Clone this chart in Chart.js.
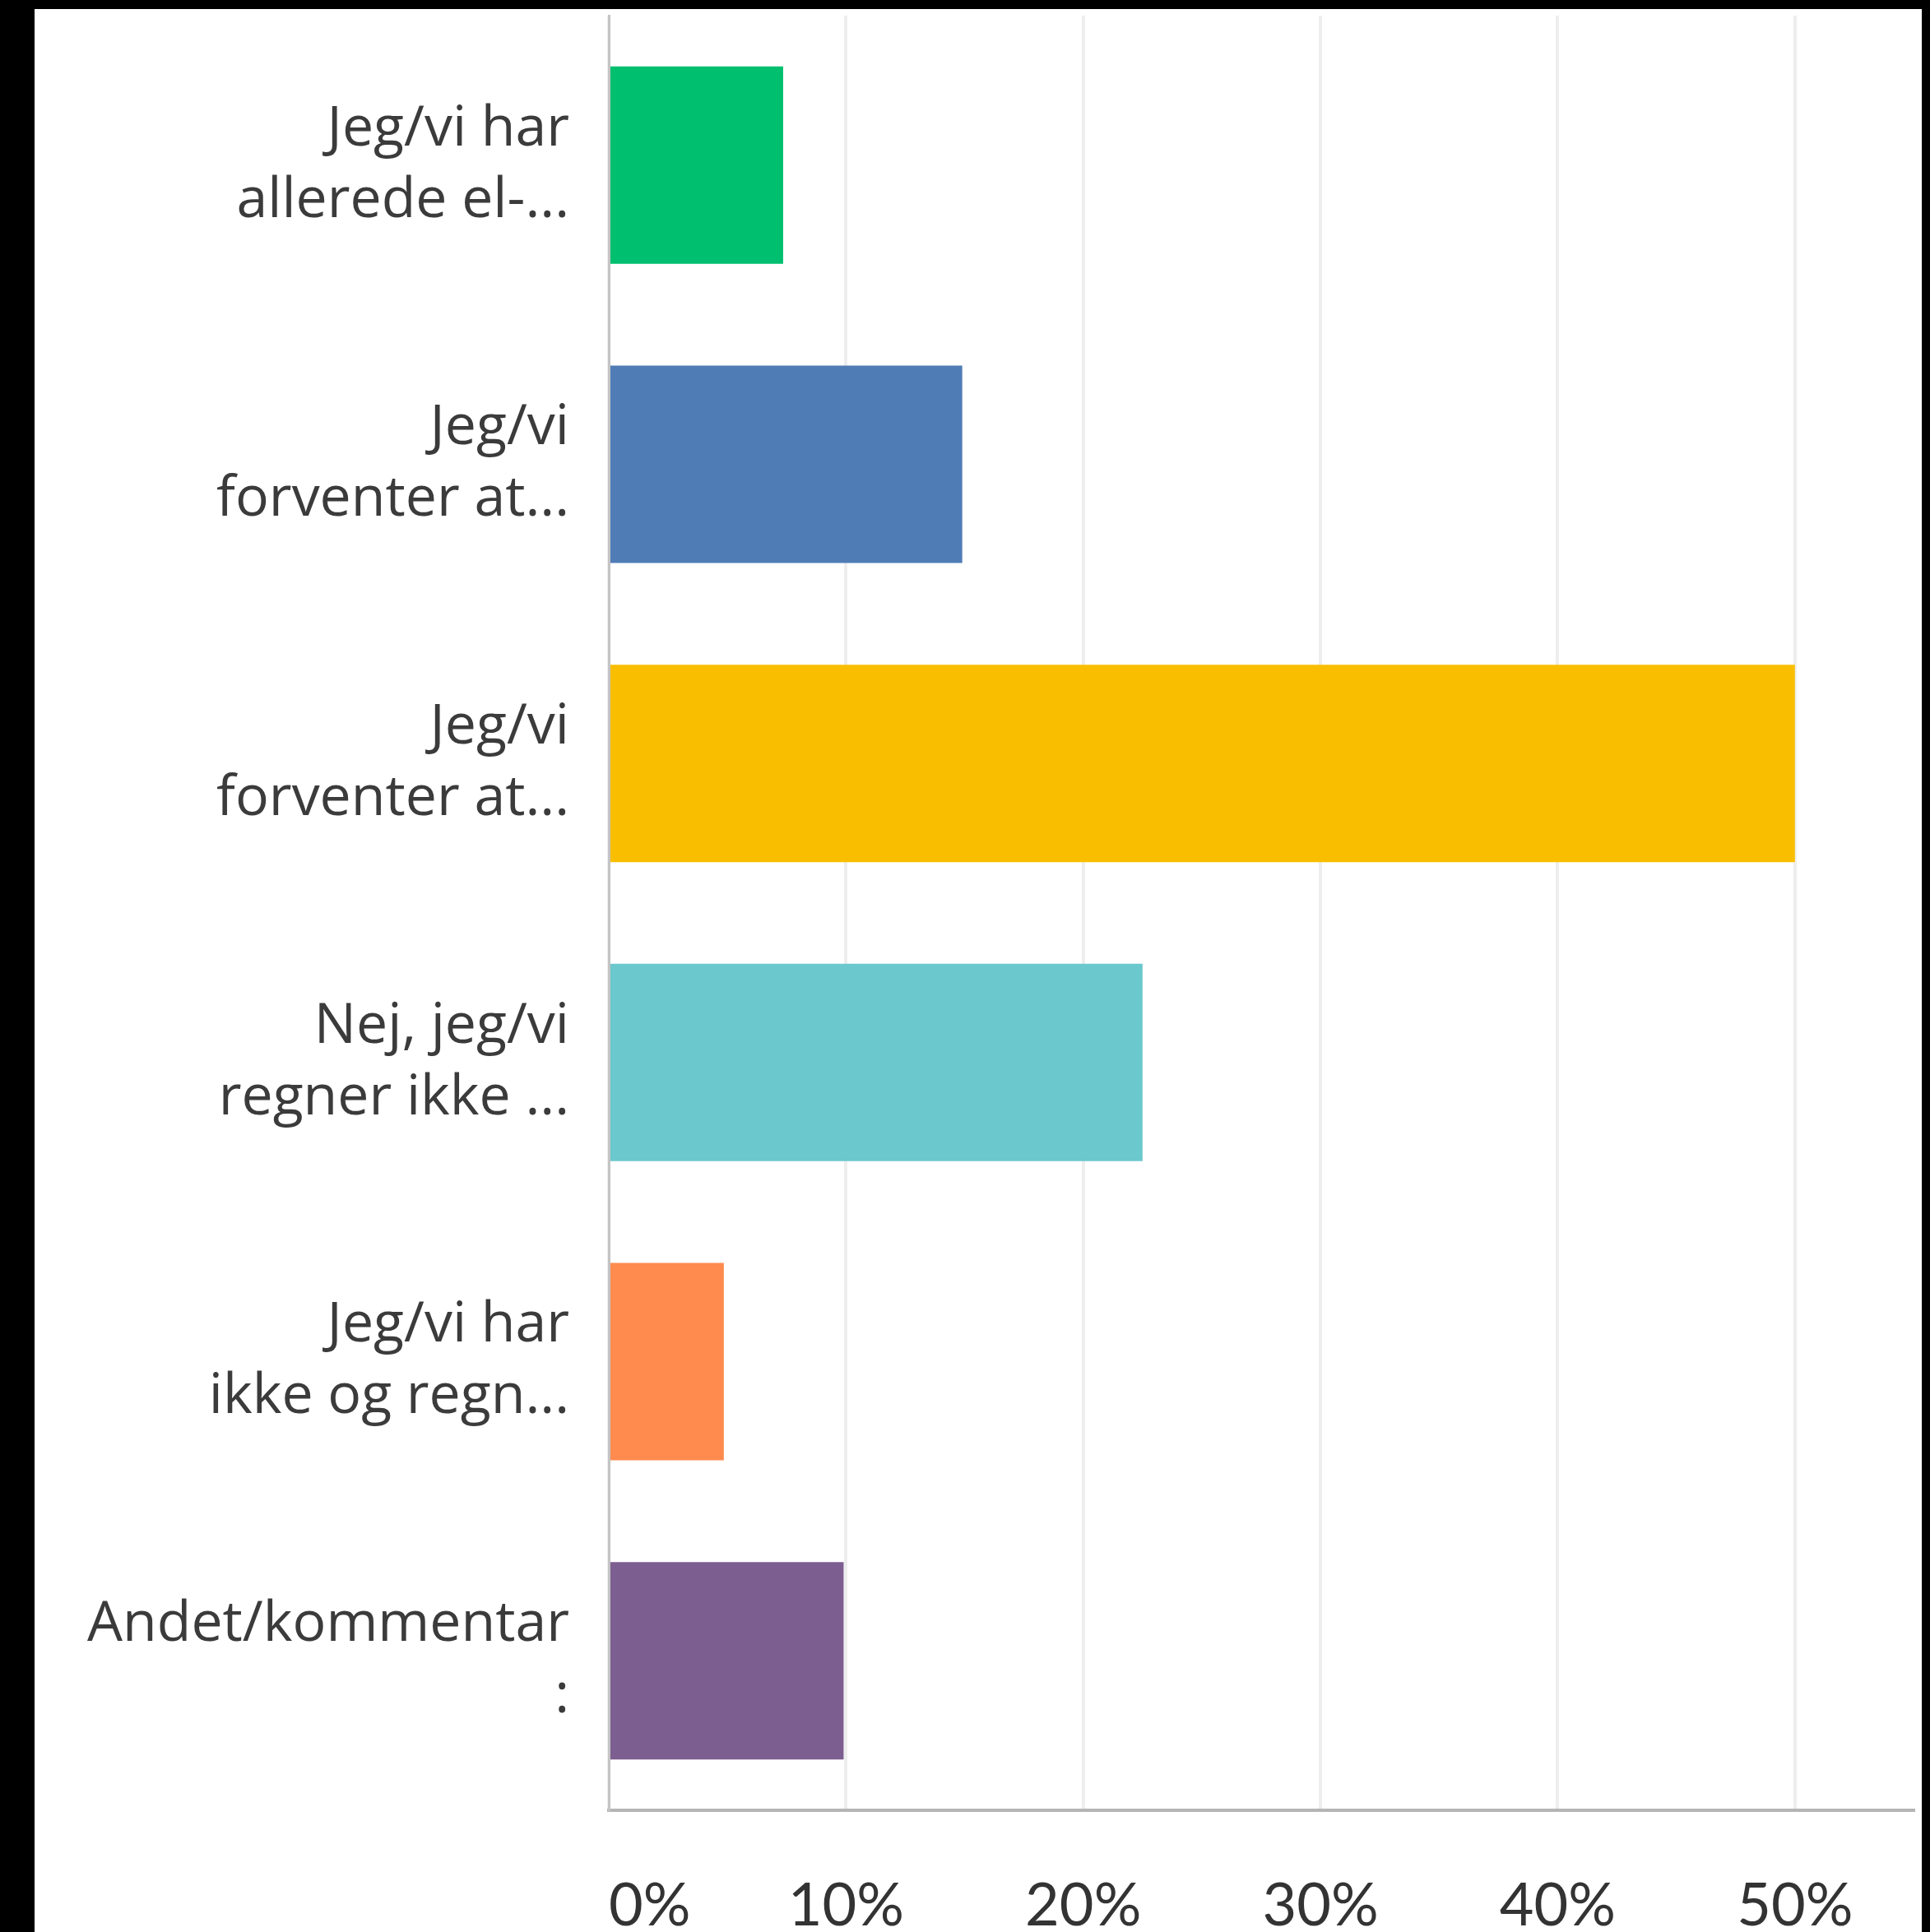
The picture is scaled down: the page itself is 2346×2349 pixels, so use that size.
<!DOCTYPE html>
<html>
<head>
<meta charset="utf-8">
<script src="https://cdn.jsdelivr.net/npm/chart.js@4"></script>
<style>
    html, body { margin: 0; padding: 0; background: #000; width: 2346px; height: 2349px; overflow: hidden; }
    #panel { position: absolute; left: 42px; top: 11px; width: 2294px; height: 2338px; background: #fff; }
</style>
</head>
<body>
<div id="panel"><canvas id="barChart"></canvas></div>
<script>
// Kategorier (afkortet som i originalen)
const categories = [
    ['Jeg/vi har', 'allerede el-...'],
    ['Jeg/vi', 'forventer at...'],
    ['Jeg/vi', 'forventer at...'],
    ['Nej, jeg/vi', 'regner ikke ...'],
    ['Jeg/vi har', 'ikke og regn...'],
    ['Andet/kommentar', ':']
];
// Svarprocenter
const percentages = [7.35, 14.9, 50, 22.5, 4.85, 9.9];
const barColors = ['#00bf6f', '#507cb6', '#f9be00', '#6bc8cd', '#ff8b4f', '#7d5e90'];
const tickValues = [0, 10, 20, 30, 40, 50];

const ctx = document.getElementById('barChart').getContext('2d');
new Chart(ctx, {
    type: 'bar',
    data: {
        labels: categories,
        datasets: [{
            data: percentages,
            backgroundColor: barColors,
            borderWidth: 0,
            categoryPercentage: 1,
            barPercentage: 0.66
        }]
    },
    options: {
        indexAxis: 'y',
        responsive: true,
        maintainAspectRatio: false,
        animation: false,
        layout: { padding: { top: 8, right: 10, left: 0, bottom: 0 } },
        plugins: {
            legend: { display: false },
            tooltip: { enabled: false }
        },
        scales: {
            x: {
                min: 0,
                max: 55,
                afterFit: (scale) => {
                    scale.height = 148;
                    scale.paddingLeft = 0;
                    scale.paddingRight = 0;
                },
                afterBuildTicks: (scale) => {
                    scale.ticks = tickValues.map(v => ({ value: v })).concat([{ value: 55 }]);
                },
                border: { color: '#b5b5b5', width: 4 },
                grid: {
                    drawTicks: false,
                    lineWidth: 4,
                    color: (c) => (c.tick && tickValues.includes(c.tick.value)) ? '#eeeeee' : 'rgba(0,0,0,0)'
                },
                ticks: {
                    align: 'inner',
                    padding: 74,
                    color: '#333333',
                    font: { family: 'Lato', size: 72 },
                    callback: (v) => tickValues.includes(v) ? v + '%' : ''
                }
            },
            y: {
                afterFit: (scale) => {
                    scale.width = 698;
                    scale.paddingTop = 0;
                    scale.paddingBottom = 0;
                },
                border: { color: '#c4c4c4', width: 3 },
                grid: { display: false, drawTicks: false },
                ticks: {
                    padding: 48,
                    color: '#3b3b3b',
                    font: { family: 'Open Sans', size: 68, lineHeight: 1.28 }
                }
            }
        }
    }
});
</script>
</body>
</html>
